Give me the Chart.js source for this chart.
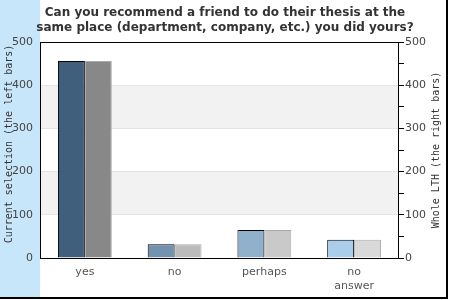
<!DOCTYPE html>
<html>
<head>
<meta charset="utf-8">
<script src="https://cdn.jsdelivr.net/npm/chart.js@4/dist/chart.umd.min.js"></script>
<style>
  html, body { margin: 0; padding: 0; background: #fff; }
  #wrap { width: 450px; height: 300px; }
</style>
</head>
<body>
<div id="wrap"><canvas id="myChart" width="450" height="300"></canvas></div>
<script>
var categories = ['yes', 'no', 'perhaps', ['no', 'answer']];
var currentSelection = [456, 32, 65, 42];
var wholeLTH = [456, 32, 65, 42];
var yTicks = [0, 100, 200, 300, 400, 500];

var leftColors = ['#3f5f7c', '#7193b0', '#8fb1cc', '#aacde9'];
var rightColors = ['#888888', '#bbbbbb', '#c9c9c9', '#d9d9d9'];

// background band, striped rows, borders and axis titles
var decor = {
    id: 'decor',
    beforeDraw: function (chart) {
        var c = chart.ctx, a = chart.chartArea, y = chart.scales.y;
        c.save();
        c.fillStyle = '#ffffff';
        c.fillRect(0, 0, chart.width, chart.height);
        c.fillStyle = '#c8e6fa';
        c.fillRect(0, 0, a.left, 297);
        c.fillStyle = '#f2f2f2';
        [[300, 400], [100, 200]].forEach(function (b) {
            var t = y.getPixelForValue(b[1]), bt = y.getPixelForValue(b[0]);
            c.fillRect(a.left, t, a.right - a.left, bt - t);
        });
        c.restore();
    },
    afterDraw: function (chart) {
        var c = chart.ctx, a = chart.chartArea;
        c.save();
        c.strokeStyle = '#000';
        c.lineWidth = 1;
        c.strokeRect(a.left + 0.5, a.top + 0.5, a.right - a.left - 1, a.bottom - a.top);
        c.lineWidth = 2;
        c.beginPath();
        c.moveTo(447, 0); c.lineTo(447, 298);
        c.moveTo(0, 298); c.lineTo(448, 298);
        c.stroke();

        c.fillStyle = '#333';
        c.font = '10px "DejaVu Sans Mono"';
        c.textAlign = 'center';
        c.textBaseline = 'middle';
        c.translate(9, 144);
        c.rotate(-Math.PI / 2);
        c.fillText('Current selection (the left bars)', 0, 0);
        c.setTransform(1, 0, 0, 1, 0, 0);
        c.translate(436, 150);
        c.rotate(-Math.PI / 2);
        c.fillText('Whole LTH (the right bars)', 0, 0);
        c.restore();
    }
};

var ctx = document.getElementById('myChart').getContext('2d');
var chart = new Chart(ctx, {
    type: 'bar',
    data: {
        labels: categories,
        datasets: [{
            label: 'Current selection',
            data: currentSelection,
            backgroundColor: leftColors,
            borderColor: '#000',
            borderWidth: 1,
            yAxisID: 'y'
        }, {
            label: 'Whole LTH',
            data: wholeLTH,
            backgroundColor: rightColors,
            borderColor: '#aaaaaa',
            borderWidth: 1,
            yAxisID: 'y1'
        }]
    },
    options: {
        responsive: false,
        animation: false,
        layout: { padding: 0 },
        datasets: { bar: { barPercentage: 1, categoryPercentage: 0.6 } },
        plugins: {
            legend: { display: false },
            tooltip: { enabled: false },
            title: {
                display: true,
                text: ['Can you recommend a friend to do their thesis at the',
                       'same place (department, company, etc.) you did yours?'],
                color: '#333',
                font: { family: 'DejaVu Sans', size: 12, weight: 'bold', lineHeight: 1.25 },
                padding: { top: 5, bottom: 7 }
            }
        },
        scales: {
            x: {
                grid: { display: false, drawTicks: false },
                border: { display: false },
                ticks: {
                    color: '#555',
                    font: { family: 'DejaVu Sans', size: 11, lineHeight: 1.27 },
                    padding: 7,
                    maxRotation: 0,
                    autoSkip: false
                },
                afterFit: function (s) { s.height = 42; }
            },
            y: {
                position: 'left',
                min: 0,
                max: 500,
                afterBuildTicks: function (s) {
                    s.ticks = yTicks.map(function (v) { return { value: v }; });
                },
                grid: { color: '#e4e4e4', drawTicks: false },
                border: { display: false },
                ticks: {
                    color: '#444',
                    font: { family: 'DejaVu Sans', size: 11 },
                    padding: 7
                },
                afterFit: function (s) { s.width = 40; }
            },
            y1: {
                position: 'right',
                min: 0,
                max: 500,
                ticks: {
                    stepSize: 50,
                    color: '#444',
                    font: { family: 'DejaVu Sans', size: 11 },
                    padding: 1,
                    callback: function (v) { return yTicks.indexOf(v) >= 0 ? v : ''; }
                },
                grid: { drawOnChartArea: false, drawTicks: true, tickLength: 5, color: '#000' },
                border: { display: false },
                afterFit: function (s) { s.width = 51; }
            }
        }
    },
    plugins: [decor]
});
</script>
</body>
</html>
